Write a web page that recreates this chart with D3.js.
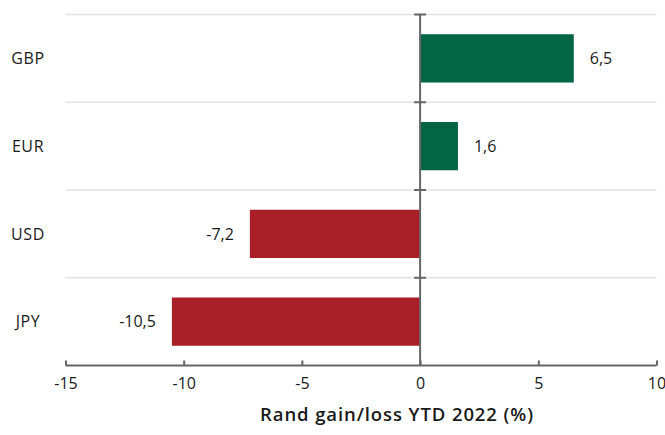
<!DOCTYPE html>
<html>
<head>
<meta charset="utf-8">
<script src="https://cdn.jsdelivr.net/npm/d3@7"></script>
<style>
  html, body { margin: 0; padding: 0; background: #fff; }
  svg { display: block; font-family: "Open Sans", Lato, sans-serif; }
</style>
</head>
<body>
<svg id="chart" width="665" height="435"></svg>
<script>
// Rand performance against major currencies, year to date 2022
const currencies = ["GBP", "EUR", "USD", "JPY"];
const changes = [6.5, 1.6, -7.2, -10.5];
const xTicks = [-15, -10, -5, 0, 5, 10];
const axisTitle = "Rand gain/loss YTD 2022 (%)";

const plotLeft = 65.5, plotRight = 656.5, plotTop = 14.5, plotBottom = 365.5;
const font = "'Open Sans', Lato, sans-serif";
const labelSize = 16;

const svg = d3.select("#chart");

const x = d3.scaleLinear().domain([-15, 10]).range([plotLeft, plotRight]);
const y = d3.scaleBand().domain(currencies).range([plotTop, plotBottom])
  .paddingInner(0.45).paddingOuter(0.225);

const locale = d3.formatLocale({ decimal: ",", thousands: " ", grouping: [3], currency: ["", ""], minus: "-" });
const fmt = locale.format(".1f");
const fmtTick = locale.format("d");

// horizontal separators between categories
const step = y.step();
const seps = d3.range(currencies.length).map(i => plotTop + i * step);
svg.append("g").selectAll("line").data(seps).join("line")
  .attr("x1", plotLeft).attr("x2", plotRight)
  .attr("y1", d => d).attr("y2", d => d)
  .attr("stroke", "#e3e3e3").attr("stroke-width", 1.5);

// bars
const data = currencies.map((c, i) => ({ c, v: changes[i] }));
svg.append("g").selectAll("rect").data(data).join("rect")
  .attr("x", d => x(Math.min(0, d.v)))
  .attr("width", d => Math.abs(x(d.v) - x(0)))
  .attr("y", d => y(d.c))
  .attr("height", y.bandwidth())
  .attr("fill", d => d.v >= 0 ? "#036543" : "#A91F28");

// value labels
svg.append("g").selectAll("text").data(data).join("text")
  .attr("x", d => d.v >= 0 ? x(d.v) + 16 : x(d.v) - 16)
  .attr("y", d => y(d.c) + y.bandwidth() / 2)
  .attr("dy", "0.36em")
  .attr("text-anchor", d => d.v >= 0 ? "start" : "end")
  .attr("font-size", labelSize)
  .attr("fill", "#1a1a1a")
  .text(d => fmt(d.v));

// category labels
svg.append("g").selectAll("text").data(currencies).join("text")
  .attr("x", 28)
  .attr("y", d => y(d) + y.bandwidth() / 2)
  .attr("dy", "0.36em")
  .attr("text-anchor", "middle")
  .attr("font-size", labelSize)
  .attr("letter-spacing", 0.6)
  .attr("fill", "#1a1a1a")
  .text(d => d);

// zero axis with ticks at the separators
svg.append("line")
  .attr("x1", x(0)).attr("x2", x(0))
  .attr("y1", plotTop).attr("y2", plotBottom)
  .attr("stroke", "#666").attr("stroke-width", 2);
svg.append("g").selectAll("line").data(seps).join("line")
  .attr("x1", x(0) - 6).attr("x2", x(0) + 6)
  .attr("y1", d => d).attr("y2", d => d)
  .attr("stroke", "#666").attr("stroke-width", 2);

// x axis
const xAxis = d3.axisBottom(x).tickValues(xTicks).tickSize(-5).tickPadding(12)
  .tickFormat(fmtTick);
const gx = svg.append("g").attr("transform", `translate(0,${plotBottom})`).call(xAxis);
gx.select(".domain").attr("stroke", "#666").attr("stroke-width", 2)
  .attr("d", `M${plotLeft},0H${plotRight}`);
gx.selectAll(".tick line").attr("stroke", "#666").attr("stroke-width", 2);
gx.selectAll(".tick text").attr("font-size", labelSize).attr("fill", "#1a1a1a")
  .attr("font-family", font);

svg.append("text")
  .attr("x", 397).attr("y", 421)
  .attr("text-anchor", "middle")
  .attr("font-size", 18.5)
  .attr("font-weight", 600)
  .attr("letter-spacing", 0.9)
  .attr("fill", "#1a1a1a")
  .text(axisTitle);
</script>
</body>
</html>
